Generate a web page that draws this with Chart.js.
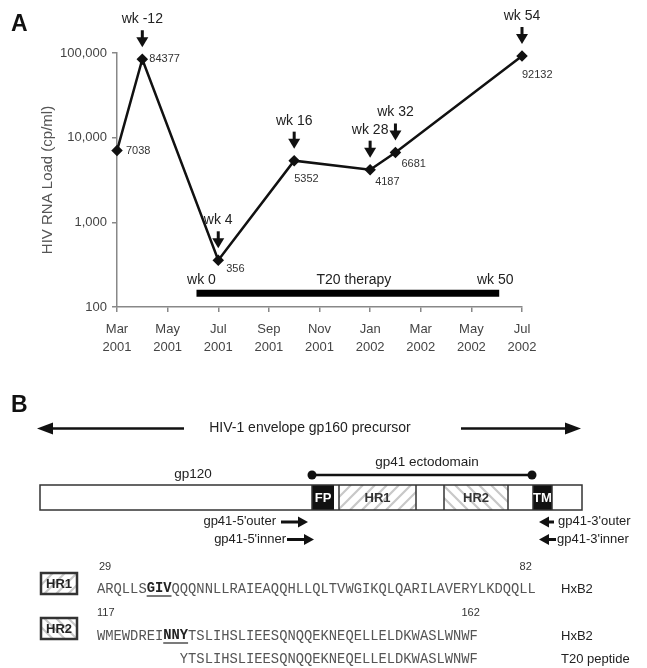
<!DOCTYPE html>
<html>
<head>
<meta charset="utf-8">
<title>HIV RNA load and gp41 diagram</title>
<script src="https://cdn.jsdelivr.net/npm/chart.js@4.4.1/dist/chart.umd.min.js"></script>
<style>
  html, body { margin: 0; padding: 0; background: #fff; }
  #wrap { width: 647px; height: 668px; position: relative; }
</style>
</head>
<body>
<div id="wrap"><canvas id="loadChart" width="647" height="668"></canvas></div>
<script>
/* --------------- Data (months counted from Mar 2001) --------------------- */
const sampleMonths = [0, 1, 4, 7, 10, 11, 16];
const rnaLoad = [7038, 84377, 356, 5352, 4187, 6681, 92132];
const weekLabels = ["", "wk -12", "wk 4", "wk 16", "wk 28", "wk 32", "wk 54"];

const tickValues = [0, 2, 4, 6, 8, 10, 12, 14, 16];
const tickMonths = ["Mar", "May", "Jul", "Sep", "Nov", "Jan", "Mar", "May", "Jul"];
const tickYears = ["2001", "2001", "2001", "2001", "2001", "2002", "2002", "2002", "2002"];
const yTicks = [100, 1000, 10000, 100000];

/* T20 therapy period: wk 0 -> wk 50 */
const therapyStart = 3.14;
const therapyEnd = 15.1;
const therapyLevel = 145;

/* --------------- Panel B text --------------------- */
const hr1Seq = "ARQLLSGIVQQQNNLLRAIEAQQHLLQLTVWGIKQLQARILAVERYLKDQQLL";
const hr2Seq = "WMEWDREINNYTSLIHSLIEESQNQQEKNEQELLELDKWASLWNWF";
const t20Seq = "YTSLIHSLIEESQNQQEKNEQELLELDKWASLWNWF";

const SANS = '"Liberation Sans", Arial, sans-serif';
const MONO = '"Liberation Mono", "Courier New", monospace';
const SEQ_SIZE = "13.8px ";
Chart.defaults.font.family = SANS;

/* label placement next to each point (dx, dy) */
const labelPos = [[9, 0], [7, 0], [8, 9], [0, 18], [5, 12], [6, 11], [0, 19]];

function downArrow(ctx, x, tipY, len) {
    ctx.fillStyle = "#111";
    ctx.fillRect(x - 1.5, tipY - len, 3, len - 8);
    ctx.beginPath();
    ctx.moveTo(x - 6, tipY - 10);
    ctx.lineTo(x + 6, tipY - 10);
    ctx.lineTo(x, tipY);
    ctx.closePath();
    ctx.fill();
}

function hArrow(ctx, x0, x1, y, lw, head, half) {
    const dir = x1 > x0 ? 1 : -1;
    ctx.strokeStyle = "#111";
    ctx.fillStyle = "#111";
    ctx.lineWidth = lw;
    ctx.beginPath();
    ctx.moveTo(x0, y);
    ctx.lineTo(x1 - dir * head, y);
    ctx.stroke();
    ctx.beginPath();
    ctx.moveTo(x1, y);
    ctx.lineTo(x1 - dir * head, y - half);
    ctx.lineTo(x1 - dir * head, y + half);
    ctx.closePath();
    ctx.fill();
}

function hatch(ctx, x, y, w, h, forward) {
    ctx.save();
    ctx.beginPath();
    ctx.rect(x, y, w, h);
    ctx.clip();
    ctx.fillStyle = "#fff";
    ctx.fillRect(x, y, w, h);
    ctx.strokeStyle = "#c8c8c8";
    ctx.lineWidth = 2.2;
    for (let s = x - h - 12; s < x + w + 12; s += 12) {
        ctx.beginPath();
        if (forward) {
            ctx.moveTo(s, y + h);
            ctx.lineTo(s + h, y);
        } else {
            ctx.moveTo(s, y);
            ctx.lineTo(s + h, y + h);
        }
        ctx.stroke();
    }
    ctx.restore();
}

function seqLine(ctx, seq, x, y, boldFrom, boldTo) {
    ctx.font = SEQ_SIZE + MONO;
    const cw = ctx.measureText("M").width;
    ctx.textBaseline = "middle";
    ctx.textAlign = "left";
    for (let i = 0; i < seq.length; i++) {
        const bold = i >= boldFrom && i < boldTo;
        ctx.font = (bold ? "bold " : "") + SEQ_SIZE + MONO;
        ctx.fillStyle = bold ? "#222" : "#555";
        ctx.fillText(seq[i], x + i * cw, y);
    }
    if (boldTo > boldFrom) {
        ctx.strokeStyle = "#222";
        ctx.lineWidth = 1.2;
        ctx.beginPath();
        ctx.moveTo(x + boldFrom * cw, y + 7);
        ctx.lineTo(x + boldTo * cw, y + 7);
        ctx.stroke();
    }
    return x + seq.length * cw;
}

function labelBox(ctx, label, x, y, w, h, forward) {
    hatch(ctx, x, y, w, h, forward);
    ctx.strokeStyle = "#333";
    ctx.lineWidth = 2.5;
    ctx.strokeRect(x, y, w, h);
    ctx.fillStyle = "#222";
    ctx.font = "bold 13px " + SANS;
    ctx.textAlign = "center";
    ctx.textBaseline = "middle";
    ctx.fillText(label, x + w / 2, y + h / 2 + 1);
}

function drawPanelB(ctx) {
    ctx.save();
    ctx.fillStyle = "#111";
    ctx.font = "bold 23px " + SANS;
    ctx.textAlign = "left";
    ctx.textBaseline = "alphabetic";
    ctx.fillText("B", 11, 412);

    // gp160 precursor arrows
    hArrow(ctx, 184, 37, 428.5, 2.5, 16, 6);
    hArrow(ctx, 461, 581, 428.5, 2.5, 16, 6);
    ctx.fillStyle = "#222";
    ctx.font = "14px " + SANS;
    ctx.textAlign = "center";
    ctx.textBaseline = "middle";
    ctx.fillText("HIV-1 envelope gp160 precursor", 310, 428);

    // gp120 / gp41 ectodomain
    ctx.font = "13.5px " + SANS;
    ctx.fillText("gp120", 193, 474);
    ctx.fillText("gp41 ectodomain", 427, 462);
    ctx.strokeStyle = "#111";
    ctx.lineWidth = 2.5;
    ctx.beginPath();
    ctx.moveTo(312, 475);
    ctx.lineTo(532, 475);
    ctx.stroke();
    ctx.fillStyle = "#111";
    [312, 532].forEach(cx => {
        ctx.beginPath();
        ctx.arc(cx, 475, 4.5, 0, Math.PI * 2);
        ctx.fill();
    });

    // gp160 domain box
    const top = 485, h = 25;
    ctx.fillStyle = "#fff";
    ctx.fillRect(40, top, 542, h);
    ctx.fillStyle = "#111";
    ctx.fillRect(312, top, 22, h);
    ctx.fillRect(533, top, 19, h);
    hatch(ctx, 339, top, 77, h, true);
    hatch(ctx, 444, top, 64, h, false);
    ctx.strokeStyle = "#333";
    ctx.lineWidth = 1.5;
    ctx.strokeRect(40, top, 542, h);
    [312, 339, 416, 444, 508, 533, 552].forEach(x => {
        ctx.beginPath();
        ctx.moveTo(x, top);
        ctx.lineTo(x, top + h);
        ctx.stroke();
    });
    ctx.font = "bold 13px " + SANS;
    ctx.textAlign = "center";
    ctx.textBaseline = "middle";
    ctx.fillStyle = "#fff";
    ctx.fillText("FP", 323, top + h / 2 + 1);
    ctx.fillText("TM", 542.5, top + h / 2 + 1);
    ctx.fillStyle = "#333";
    ctx.fillText("HR1", 377.5, top + h / 2 + 1);
    ctx.fillText("HR2", 476, top + h / 2 + 1);

    // primers
    ctx.font = "13px " + SANS;
    ctx.fillStyle = "#222";
    ctx.textAlign = "right";
    ctx.fillText("gp41-5'outer", 276, 521);
    ctx.fillText("gp41-5'inner", 286, 539);
    hArrow(ctx, 281, 308, 522, 3, 10, 5.5);
    hArrow(ctx, 287, 314, 539.5, 3, 10, 5.5);
    ctx.fillStyle = "#222";
    ctx.font = "13px " + SANS;
    ctx.textAlign = "left";
    ctx.fillText("gp41-3'outer", 558, 521);
    ctx.fillText("gp41-3'inner", 557, 539);
    hArrow(ctx, 554, 539, 522, 3, 10, 5.5);
    hArrow(ctx, 556, 539, 539.5, 3, 10, 5.5);

    // sequences
    labelBox(ctx, "HR1", 41, 573, 36, 21, true);
    labelBox(ctx, "HR2", 41, 618, 36, 21, false);

    const sx = 97;
    const end1 = seqLine(ctx, hr1Seq, sx, 589, 6, 9);
    const end2 = seqLine(ctx, hr2Seq, sx, 636, 8, 11);
    ctx.font = SEQ_SIZE + MONO;
    const cw = ctx.measureText("M").width;
    seqLine(ctx, t20Seq, sx + 10 * cw, 659, 0, 0);

    ctx.fillStyle = "#333";
    ctx.font = "11px " + SANS;
    ctx.textBaseline = "middle";
    ctx.textAlign = "left";
    ctx.fillText("29", sx + 2, 567);
    ctx.fillText("117", sx, 613);
    ctx.textAlign = "right";
    ctx.fillText("82", end1 - 4, 567);
    ctx.fillText("162", end2 + 2, 613);

    ctx.fillStyle = "#222";
    ctx.font = "13px " + SANS;
    ctx.textAlign = "left";
    ctx.fillText("HxB2", 561, 589);
    ctx.fillText("HxB2", 561, 636);
    ctx.fillText("T20 peptide", 561, 659);
    ctx.restore();
}

/* --------------- Annotation plugin --------------------- */
const annotations = {
    id: "annotations",
    afterDatasetsDraw(chart) {
        const ctx = chart.ctx;
        const xs = chart.scales.x;
        const ys = chart.scales.y;
        const pts = chart.getDatasetMeta(0).data;
        ctx.save();

        ctx.fillStyle = "#111";
        ctx.font = "bold 23px " + SANS;
        ctx.textAlign = "left";
        ctx.textBaseline = "alphabetic";
        ctx.fillText("A", 11, 31);

        pts.forEach((p, i) => {
            // value label
            ctx.fillStyle = "#333";
            ctx.font = "11px " + SANS;
            ctx.textAlign = "left";
            ctx.textBaseline = "middle";
            ctx.fillText(String(rnaLoad[i]), p.x + labelPos[i][0], p.y + labelPos[i][1]);
            // week arrow
            if (weekLabels[i]) {
                downArrow(ctx, p.x, p.y - 12, 17);
                ctx.fillStyle = "#222";
                ctx.font = "14px " + SANS;
                ctx.textAlign = "center";
                ctx.fillText(weekLabels[i], p.x, p.y - 40);
            }
        });

        const x0 = xs.getPixelForValue(therapyStart);
        const x1 = xs.getPixelForValue(therapyEnd);
        const yb = ys.getPixelForValue(therapyLevel);
        ctx.fillStyle = "#222";
        ctx.font = "14px " + SANS;
        ctx.textAlign = "center";
        ctx.textBaseline = "middle";
        ctx.fillText("wk 0", x0 + 5, yb - 13);
        ctx.fillText("T20 therapy", (x0 + x1) / 2 + 6, yb - 13);
        ctx.fillText("wk 50", x1 - 4, yb - 13);

        drawPanelB(ctx);
        ctx.restore();
    }
};

/* --------------- Chart --------------------- */
const loadChart = new Chart(document.getElementById("loadChart"), {
    type: "line",
    plugins: [annotations],
    data: {
        datasets: [
            {
                data: sampleMonths.map((m, i) => ({ x: m, y: rnaLoad[i] })),
                borderColor: "#111",
                borderWidth: 2.5,
                pointStyle: "rectRot",
                pointRadius: 4,
                pointBackgroundColor: "#111",
                pointBorderColor: "#111",
                tension: 0,
                clip: false,
            },
            {
                data: [{ x: therapyStart, y: therapyLevel }, { x: therapyEnd, y: therapyLevel }],
                borderColor: "#000",
                borderWidth: 7,
                borderCapStyle: "butt",
                pointRadius: 0,
            },
        ],
    },
    options: {
        responsive: false,
        animation: false,
        layout: { padding: { left: 0, top: 53, right: 125, bottom: 311 } },
        plugins: {
            legend: { display: false },
            tooltip: { enabled: false },
        },
        scales: {
            x: {
                type: "linear",
                min: 0,
                max: 16,
                afterBuildTicks: (s) => { s.ticks = tickValues.map(v => ({ value: v })); },
                afterFit: (s) => { s.height = 50; },
                ticks: {
                    autoSkip: false,
                    maxRotation: 0,
                    padding: 8,
                    color: "#444",
                    font: { size: 13, lineHeight: 1.4 },
                    callback: (v) => {
                        const i = tickValues.indexOf(v);
                        return i < 0 ? "" : [tickMonths[i], tickYears[i]];
                    },
                },
                grid: { drawOnChartArea: false, tickLength: 5, color: "#888", lineWidth: 1.5 },
                border: { color: "#888", width: 1.5 },
            },
            y: {
                type: "logarithmic",
                min: 100,
                max: 100000,
                afterBuildTicks: (s) => { s.ticks = yTicks.map(v => ({ value: v })); },
                afterFit: (s) => { s.width = 117; },
                ticks: {
                    padding: 5,
                    color: "#444",
                    font: { size: 13 },
                    callback: (v) => Number(v).toLocaleString("en-US"),
                },
                grid: { drawOnChartArea: false, tickLength: 5, color: "#888", lineWidth: 1.5 },
                border: { color: "#888", width: 1.5 },
                title: {
                    display: true,
                    text: "HIV RNA Load (cp/ml)",
                    color: "#555",
                    font: { size: 15 },
                    padding: { top: 39, bottom: 0 },
                },
            },
        },
    },
});
</script>
</body>
</html>
